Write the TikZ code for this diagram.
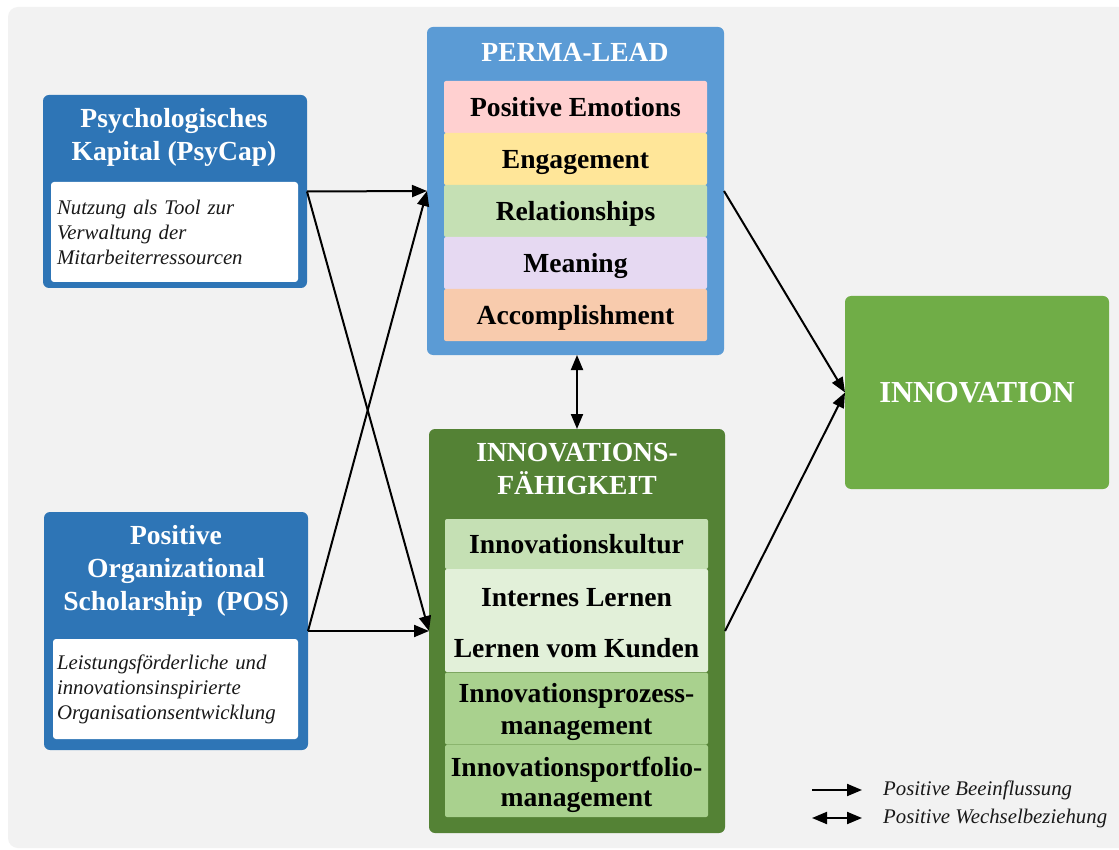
\documentclass[tikz,border=0pt]{standalone}
\usepackage{fontspec}
\setmainfont{Liberation Serif}
\usetikzlibrary{arrows.meta,calc}

\definecolor{panelgray}{HTML}{F2F2F2}
\definecolor{darkblue}{HTML}{2E75B6}
\definecolor{lightblue}{HTML}{5B9BD5}
\definecolor{darkgreen}{HTML}{548235}
\definecolor{midgreen}{HTML}{70AD47}
\definecolor{rowpink}{HTML}{FFD0D0}
\definecolor{rowgold}{HTML}{FFE699}
\definecolor{rowgreen}{HTML}{C5E0B4}
\definecolor{rowlilac}{HTML}{E6D9F2}
\definecolor{rowpeach}{HTML}{F8CBAD}
\definecolor{rowpale}{HTML}{E2F0D9}
\definecolor{rowsage}{HTML}{A9D18E}

\newcommand\hdfont{\fontsize{27.6}{33}\selectfont\bfseries}
\newcommand\itemfont{\fontsize{27.6}{31.5}\selectfont\bfseries}
\newcommand\notefont{\fontsize{20.8}{25}\selectfont\itshape}
\newcommand\bigfont{\fontsize{30.5}{36}\selectfont\bfseries}

\begin{document}
\begin{tikzpicture}[x=1pt,y=-1pt,
  box/.style={rectangle, rounded corners=6pt, inner sep=0pt, outer sep=0pt},
  note/.style={rectangle, fill=white, rounded corners=3pt, inner ysep=0pt,
    align=left, font=\notefont, text=black!90},
  rowbox/.style={rectangle, rounded corners=2pt, inner sep=0pt,
    minimum width=263pt, font=\itemfont, text=black, align=center},
  oneline/.style={text height=19pt, text depth=0pt},
  rowtext/.style={inner sep=0pt, font=\itemfont, text=black, oneline},
  hd/.style={inner sep=0pt, font=\hdfont, text=white, align=center},
  legtext/.style={inner sep=0pt, font=\notefont, text=black!90, anchor=west},
  tip/.tip={Triangle[length=15pt,width=12pt]},
  arr/.style={line width=2pt, -tip},
  darr/.style={line width=2pt, tip-tip}]

% canvas and panel
\fill[white] (0,0) rectangle (1119,850);
\useasboundingbox (0,0) rectangle (1119,850);
\fill[panelgray, rounded corners=10pt] (8,7) rectangle (1135,848);

% Psychologisches Kapital
\node[box, fill=darkblue, minimum width=264pt, minimum height=193pt] (psy) at (175,191.5) {};
\node[hd] (psyT) at (174,137) {Psychologisches\\Kapital (PsyCap)};
\node[note, minimum width=247pt, minimum height=100pt, text width=235pt, inner xsep=6pt]
  (psyN) at (174.5,232) {Nutzung als Tool zur\\Verwaltung der\\Mitarbeiterressourcen};

% Positive Organizational Scholarship
\node[box, fill=darkblue, minimum width=264pt, minimum height=238pt] (pos) at (176,631) {};
\node[hd] (posT) at (176,571) {Positive\\Organizational\\Scholarship\ \ (POS)};
\node[note, minimum width=245pt, minimum height=100pt, text width=237pt, inner xsep=4pt]
  (posN) at (175.5,689) {Leistungsförderliche und\\innovationsinspirierte\\Organisationsentwicklung};

% PERMA-LEAD
\node[box, fill=lightblue, minimum width=297pt, minimum height=328pt] (perma) at (575.5,191) {};
\node[hd] (permaT) at (575,52) {PERMA-LEAD};
\node[rowbox, oneline, fill=rowpink,  minimum height=52pt] (pe)  at (575.5,107) {Positive Emotions};
\node[rowbox, oneline, fill=rowgold,  minimum height=52pt] (eng) at (575.5,159) {Engagement};
\node[rowbox, oneline, fill=rowgreen, minimum height=52pt] (rel) at (575.5,211) {Relationships};
\node[rowbox, oneline, fill=rowlilac, minimum height=52pt] (mea) at (575.5,263) {Meaning};
\node[rowbox, oneline, fill=rowpeach, minimum height=52pt] (acc) at (575.5,315) {Accomplishment};

% Innovationsfähigkeit
\node[box, fill=darkgreen, minimum width=296pt, minimum height=404pt] (innf) at (577,631) {};
\node[hd] (innfT) at (577,469) {INNOVATIONS-\\FÄHIGKEIT};
\node[rowbox, oneline, fill=rowgreen, minimum height=50pt] (kul) at (576.5,544) {Innovationskultur};
\node[rowbox, fill=rowpale, minimum height=103pt] (lern) at (576.5,620.5) {};
\node[rowtext] (lern1) at (576.5,597) {Internes Lernen};
\node[rowtext] (lern2) at (576.5,648) {Lernen vom Kunden};
\node[rowbox, fill=rowsage, minimum height=72pt] (proz) at (576.5,708.5) {};
\node[rowtext] (proz1) at (576.5,693) {Innovationsprozess-};
\node[rowtext] (proz2) at (576.5,725) {management};
\node[rowbox, fill=rowsage, minimum height=72pt] (port) at (576.5,781) {};
\node[rowtext] (port1) at (576.5,767) {Innovationsportfolio-};
\node[rowtext] (port2) at (576.5,797) {management};

% Innovation
\node[box, fill=midgreen, minimum width=264pt, minimum height=193pt,
  font=\bigfont, text=white] (inno) at (977,392.5) {INNOVATION};

% connectors
\draw[arr] (psy.east) -- (perma.west);
\draw[arr] (psy.east) -- (innf.west);
\draw[arr] (pos.east) -- (perma.west);
\draw[arr] (pos.east) -- (innf.west);
\draw[arr] (perma.east) -- (inno.west);
\draw[arr] (innf.east) -- (inno.west);
\draw[darr] (perma.south -| innf.north) -- (innf.north);

% legend
\coordinate (la1) at (812,790);
\coordinate (lb1) at (862,790);
\coordinate (la2) at (812,818);
\coordinate (lb2) at (862,818);
\draw[arr] (la1) -- (lb1);
\draw[darr] (la2) -- (lb2);
\node[legtext] (lt1) at (883,790) {Positive Beeinflussung};
\node[legtext] (lt2) at (883,818) {Positive Wechselbeziehung};
\end{tikzpicture}
\end{document}
